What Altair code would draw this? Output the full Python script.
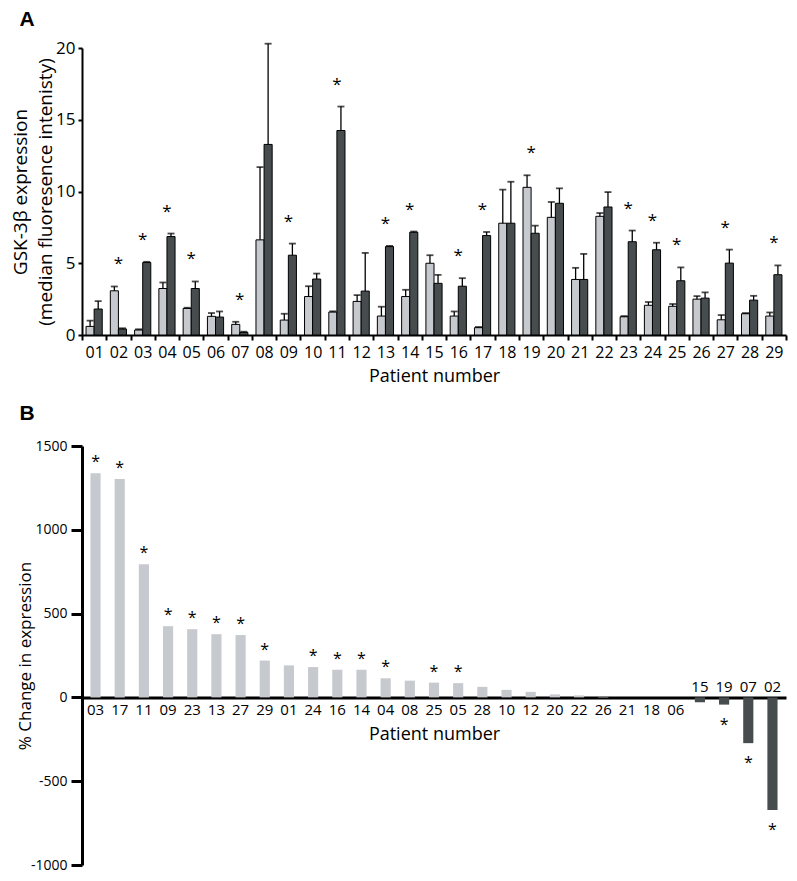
import altair as alt
import pandas as pd

# ---------------- Panel A data ----------------
patients = ["01", "02", "03", "04", "05", "06", "07", "08", "09", "10",
            "11", "12", "13", "14", "15", "16", "17", "18", "19", "20",
            "21", "22", "23", "24", "25", "26", "27", "28", "29"]
pre = [0.60, 3.08, 0.35, 3.24, 1.85, 1.30, 0.74, 6.63, 1.04, 2.68,
       1.60, 2.34, 1.32, 2.68, 5.00, 1.32, 0.51, 7.79, 10.29, 8.20,
       3.87, 8.27, 1.27, 2.07, 2.00, 2.50, 1.06, 1.48, 1.32]
pre_err = [0.40, 0.30, 0.05, 0.42, 0.05, 0.23, 0.18, 5.07, 0.44, 0.72,
           0.05, 0.44, 0.65, 0.47, 0.56, 0.32, 0.05, 2.34, 0.84, 1.07,
           0.81, 0.23, 0.05, 0.23, 0.16, 0.21, 0.33, 0.05, 0.25]
post = [1.81, 0.42, 5.05, 6.86, 3.24, 1.25, 0.18, 13.28, 5.56, 3.90,
        14.25, 3.06, 6.16, 7.16, 3.60, 3.40, 6.93, 7.79, 7.09, 9.18,
        3.87, 8.92, 6.50, 5.94, 3.78, 2.57, 5.01, 2.43, 4.20]
post_err = [0.55, 0.05, 0.05, 0.21, 0.49, 0.39, 0.05, 7.02, 0.81, 0.38,
            1.67, 2.66, 0.05, 0.05, 0.59, 0.56, 0.25, 2.89, 0.53, 1.04,
            1.78, 1.04, 0.78, 0.49, 0.93, 0.40, 0.94, 0.30, 0.65]
sig_a = ["02", "03", "04", "05", "07", "09", "11", "13", "14", "16", "17",
         "19", "23", "24", "25", "27", "29"]

# ---------------- Panel B data ----------------
order_b = ["03", "17", "11", "09", "23", "13", "27", "29", "01", "24",
           "16", "14", "04", "08", "25", "05", "28", "10", "12", "20",
           "22", "26", "21", "18", "06", "15", "19", "07", "02"]
change_b = [1337, 1303, 794, 425, 407, 377, 372, 220, 191, 181,
            165, 165, 114, 100, 88, 85, 63, 45, 33, 18,
            12, 3, 0, 0, 0, -29, -43, -273, -672]
sig_b = ["03", "17", "11", "09", "23", "13", "27", "29", "24", "16", "14",
         "04", "25", "05", "19", "07", "02"]

LIGHT_A, DARK_A = "#c6c9ce", "#474d4f"
LIGHT_B, DARK_B = "#b9bdc3", "#565c5f"
SANS = "Open Sans"

# ---------- build tables ----------
rows = []
for p, v, e in zip(patients, pre, pre_err):
    rows.append({"patient": p, "group": "pre", "value": v, "top": v + e})
for p, v, e in zip(patients, post, post_err):
    rows.append({"patient": p, "group": "post", "value": v, "top": v + e})
dfA = pd.DataFrame(rows)
starsA = dfA.groupby("patient", as_index=False)["top"].max()
starsA = starsA[starsA["patient"].isin(sig_a)]

dfB = pd.DataFrame({"patient": order_b, "change": change_b})
dfB["sign"] = ["pos" if c >= 0 else "neg" for c in change_b]
dfB["sig"] = dfB["patient"].isin(sig_b)

W = 704
HA = 287
HB = 419

# ---------------- Panel A ----------------
xA = alt.X("patient:N", sort=patients,
           scale=alt.Scale(paddingInner=0, paddingOuter=0),
           axis=alt.Axis(title="Patient number", labelAngle=0, tickBand="extent",
                         domainColor="black", domainWidth=2, tickColor="black",
                         tickWidth=2, tickSize=5, labelFont=SANS, labelFontSize=16,
                         labelColor="black", labelPadding=4,
                         titleFont=SANS, titleFontSize=18, titleFontWeight="normal",
                         titleColor="black", titlePadding=7))
xoA = alt.XOffset("group:N", sort=["pre", "post"],
                  scale=alt.Scale(paddingInner=0, paddingOuter=0.5))
yA = alt.Y("value:Q", scale=alt.Scale(domain=[0, 20], nice=False),
           axis=alt.Axis(values=[0, 5, 10, 15, 20], grid=False,
                         title=["GSK-3β expression", "(median fluoresence intenisty)"],
                         domainColor="black", domainWidth=2, tickColor="black",
                         tickWidth=2, tickSize=4, labelFont=SANS, labelFontSize=17,
                         labelColor="black", labelPadding=3,
                         titleFont=SANS, titleFontSize=19, titleFontWeight="normal",
                         titleColor="black", titleLineHeight=25, titlePadding=0))

baseA = alt.Chart(dfA).encode(x=xA, xOffset=xoA)
barsA = baseA.mark_bar(stroke="black", strokeWidth=1).encode(
    y=yA,
    color=alt.Color("group:N", scale=alt.Scale(domain=["pre", "post"],
                                               range=[LIGHT_A, DARK_A]), legend=None))
errA = baseA.mark_rule(color="black", strokeWidth=1.3).encode(
    y="value:Q", y2="top:Q")
capA = baseA.mark_tick(orient="horizontal", size=7, thickness=1.8, color="black").encode(
    y="top:Q")
starA = alt.Chart(starsA).mark_text(text="*", font=SANS, fontSize=17, dy=-22,
                                    color="black", baseline="middle").encode(
    x=alt.X("patient:N", sort=patients), y="top:Q")
labelA = alt.Chart(pd.DataFrame({"t": ["A"]})).mark_text(
    font="Liberation Sans", fontSize=21, fontWeight="bold", color="black",
    align="center", baseline="middle").encode(
    text="t:N", x=alt.value(-55), y=alt.value(-28))

panelA = alt.layer(barsA, errA, capA, starA, labelA).properties(width=W, height=HA)

# ---------------- Panel B ----------------
dom_b = [-1000, 1500]
axis_offset = -HB * (0 - dom_b[0]) / (dom_b[1] - dom_b[0])
xB = alt.X("patient:N", sort=order_b,
           scale=alt.Scale(paddingInner=0.58, paddingOuter=0.35),
           axis=alt.Axis(labels=False, ticks=False, domainColor="black",
                         domainWidth=3, offset=axis_offset, title="Patient number",
                         titleFont=SANS, titleFontSize=18, titleFontWeight="normal",
                         titleColor="black", titlePadding=28))
yB = alt.Y("change:Q", scale=alt.Scale(domain=dom_b, nice=False),
           axis=alt.Axis(values=[-1000, -500, 0, 500, 1000, 1500], grid=False,
                         labelExpr="'' + datum.value",
                         title="% Change in expression", domainColor="black",
                         domainWidth=3, tickColor="black", tickWidth=3, tickSize=11,
                         labelFont=SANS, labelFontSize=14, labelColor="black",
                         labelPadding=4, titleFont=SANS, titleFontSize=17,
                         titleFontWeight="normal", titleColor="black", titlePadding=-4))

baseB = alt.Chart(dfB).encode(x=xB)
barsB = baseB.mark_bar().encode(
    y=yB,
    color=alt.Color("sign:N", scale=alt.Scale(domain=["pos", "neg"],
                                              range=[LIGHT_B, DARK_B]), legend=None))
labPos = baseB.transform_filter(alt.datum.change >= 0).mark_text(
    font=SANS, fontSize=15, color="black", dy=13, baseline="middle").encode(
    y=alt.datum(0), text="patient:N")
labNeg = baseB.transform_filter(alt.datum.change < 0).mark_text(
    font=SANS, fontSize=15, color="black", dy=-10, baseline="middle").encode(
    y=alt.datum(0), text="patient:N")
starPos = baseB.transform_filter((alt.datum.change >= 0) & alt.datum.sig).mark_text(
    text="*", font=SANS, fontSize=16, color="black", dy=-11, baseline="middle").encode(
    y="change:Q")
starNeg = baseB.transform_filter((alt.datum.change < 0) & alt.datum.sig).mark_text(
    text="*", font=SANS, fontSize=16, color="black", dy=20, baseline="middle").encode(
    y="change:Q")
labelB = alt.Chart(pd.DataFrame({"t": ["B"]})).mark_text(
    font="Liberation Sans", fontSize=21, fontWeight="bold", color="black",
    align="center", baseline="middle").encode(
    text="t:N", x=alt.value(-55), y=alt.value(-32))

panelB = alt.layer(barsB, labPos, labNeg, starPos, starNeg, labelB).properties(
    width=W, height=HB)

chart = alt.vconcat(panelA, panelB, spacing=18).properties(
    padding={"left": 3, "top": 1, "right": 2, "bottom": 0}
).configure_view(stroke=None)

chart.save("out.html", embed_options={"renderer": "svg", "actions": False})
